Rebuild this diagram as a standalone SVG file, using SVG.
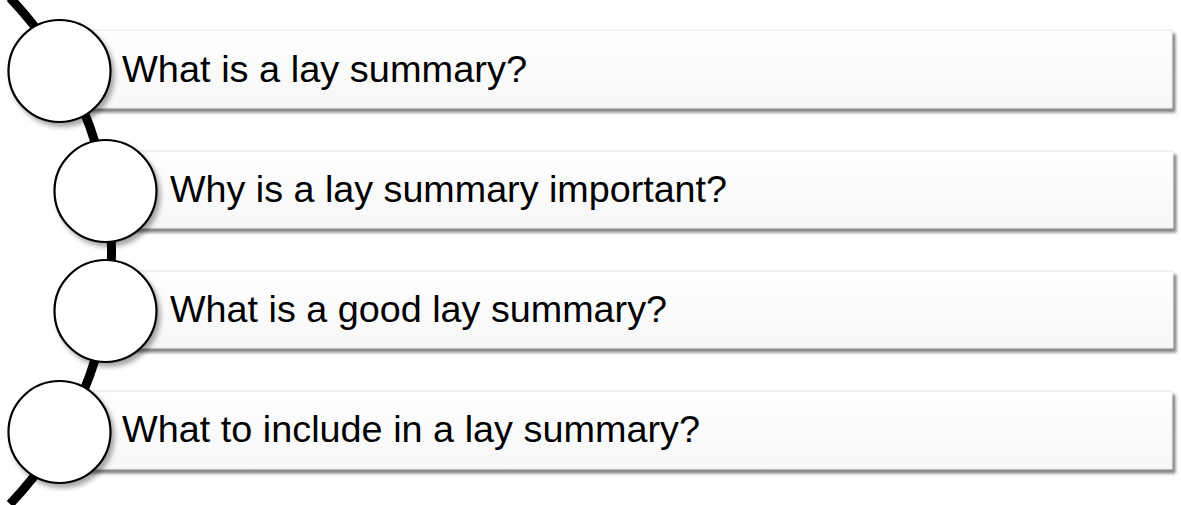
<svg xmlns="http://www.w3.org/2000/svg" width="1181" height="505" viewBox="0 0 1181 505">
<style>
.box{fill:url(#bg);stroke:#e6e6e6;stroke-width:1;filter:url(#sh)}
.dot{fill:#fff;stroke:#000;stroke-width:2.2;filter:url(#csh)}
.lbl{font-family:"Liberation Sans",Arial,sans-serif;font-size:37.7px;fill:#000}
.spine{fill:none;stroke:#000;stroke-width:9}
</style>
<defs>
<linearGradient id="bg" x1="0" y1="0" x2="0" y2="1">
<stop offset="0" stop-color="#ffffff"/>
<stop offset="1" stop-color="#f7f7f7"/>
</linearGradient>
<filter id="sh" x="-5%" y="-20%" width="110%" height="150%">
<feGaussianBlur in="SourceAlpha" stdDeviation="1.8"/>
<feOffset dx="3" dy="3.5" result="b"/>
<feFlood flood-color="#6e6e6e" flood-opacity="0.85"/>
<feComposite in2="b" operator="in"/>
<feMerge><feMergeNode/><feMergeNode in="SourceGraphic"/></feMerge>
</filter>
<filter id="csh" x="-20%" y="-20%" width="150%" height="150%">
<feGaussianBlur in="SourceAlpha" stdDeviation="2.5"/>
<feOffset dx="3" dy="4" result="b"/>
<feFlood flood-color="#000" flood-opacity="0.35"/>
<feComposite in2="b" operator="in"/>
<feMerge><feMergeNode/><feMergeNode in="SourceGraphic"/></feMerge>
</filter>
</defs>
<g id="connectors">
<path class="spine" d="M 10 -2 A 366 366 0 0 1 10 504"/>
</g>
<g id="node1">
<rect class="box" x="60" y="30" width="1112" height="78"/>
<circle class="dot" cx="59.5" cy="71" r="51"/>
<text class="lbl" x="122" y="82" textLength="405" lengthAdjust="spacingAndGlyphs">What is a lay summary?</text>
</g>
<g id="node2">
<rect class="box" x="105" y="151" width="1068" height="77"/>
<circle class="dot" cx="105.5" cy="191" r="51"/>
<text class="lbl" x="170" y="202" textLength="557" lengthAdjust="spacingAndGlyphs">Why is a lay summary important?</text>
</g>
<g id="node3">
<rect class="box" x="105" y="271" width="1068" height="77"/>
<circle class="dot" cx="105.5" cy="311" r="51"/>
<text class="lbl" x="170" y="322" textLength="497" lengthAdjust="spacingAndGlyphs">What is a good lay summary?</text>
</g>
<g id="node4">
<rect class="box" x="60" y="391" width="1112" height="78"/>
<circle class="dot" cx="59.5" cy="432" r="51"/>
<text class="lbl" x="122" y="442" textLength="578" lengthAdjust="spacingAndGlyphs">What to include in a lay summary?</text>
</g>
</svg>
